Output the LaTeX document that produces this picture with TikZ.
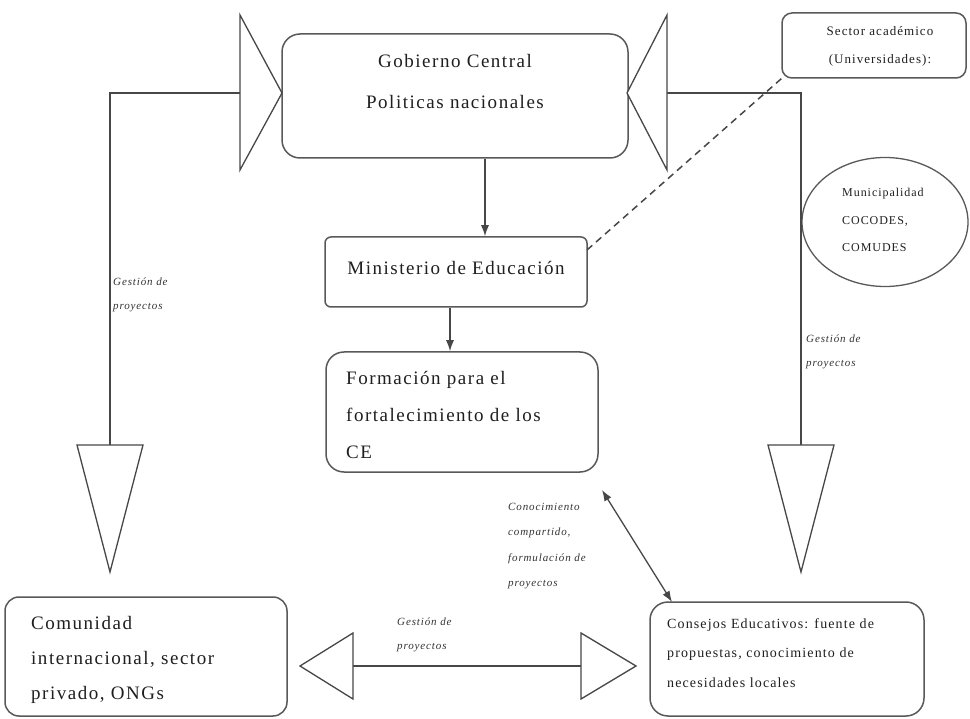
\documentclass[tikz,border=0pt]{standalone}
\usepackage{fontspec}
\setmainfont{Liberation Serif}[LetterSpace=8]
\usetikzlibrary{arrows.meta,shapes.geometric}
\newcommand\fsz[2]{\fontsize{#1}{#2}\selectfont}
\begin{document}
\begin{tikzpicture}[x=1pt,y=-1pt,
  box/.style={draw=black!65, line width=1.5pt, rounded corners=#1, inner sep=0pt},
  box/.default=18pt,
  ln/.style={draw=black!72, line width=1.3pt},
  tri/.style={draw=black!72, line width=1.3pt, fill=white, line join=miter},
  arr/.style={ln, -{Latex[length=11pt,width=8pt]}},
  darr/.style={ln, {Latex[length=11pt,width=8pt]}-{Latex[length=11pt,width=8pt]}},
  lbl/.style={font=\itshape\fsz{11}{24}, text=black!80, align=left, inner sep=0pt},
  txt/.style={text=black!88, inner sep=0pt}]
\useasboundingbox (0,0) rectangle (970,719);
\fill[white] (0,0) rectangle (970,719);

% boxes
\node[box, minimum width=346pt, minimum height=124pt] (gob) at (455,96) {};
\node[box=6pt, minimum width=262pt, minimum height=70pt] (min) at (456,272) {};
\node[box, minimum width=272pt, minimum height=120pt] (form) at (462,412) {};
\node[box=14pt, minimum width=282pt, minimum height=119pt] (com) at (146,656.5) {};
\node[box, minimum width=274pt, minimum height=114pt] (cons) at (787,659) {};
\node[box=10pt, minimum width=184pt, minimum height=65pt] (sec) at (874,45.5) {};
\node[ellipse, draw=black!65, line width=1.3pt, minimum width=166pt, minimum height=129pt, inner sep=0pt] (muni) at (885,222) {};

% texts
\node[txt, font=\fsz{19}{41}, align=center] (gobT) at (455,82) {Gobierno Central\\Politicas nacionales};
\node[txt, font=\fsz{19}{24}] (minT) at (456,268) {Ministerio de Educación};
\node[txt, font=\fsz{19}{37}, align=left, anchor=west] (formT) at (346,415) {Formación para el\\fortalecimiento de los\\CE};
\node[txt, font=\fsz{19}{35}, align=left, anchor=west] (comT) at (31,660) {Comunidad\\internacional, sector\\privado, ONGs};
\node[txt, font=\fsz{14}{29.5}, align=left, anchor=west] (consT) at (667,653) {Consejos Educativos: fuente de\\propuestas, conocimiento de\\necesidades locales};
\node[txt, font=\fsz{13}{28}, align=center] (secT) at (880,46) {Sector académico\\(Universidades):};
\node[txt, font=\fsz{12}{27.5}, align=left, anchor=west] (muniT) at (842,220) {Municipalidad\\COCODES,\\COMUDES};

% coordinates
\coordinate (lApex) at (282,93);
\coordinate (lBase) at (240,93);
\coordinate (lCorner) at (110,93);
\coordinate (lDown) at (110,445);
\coordinate (rApex) at (627,93);
\coordinate (rBase) at (667,93);
\coordinate (rCorner) at (801,93);
\coordinate (rDown) at (801,445);
\coordinate (bL) at (353,666);
\coordinate (bR) at (581,666);

% left bow
\draw[ln] (lBase) -- (lCorner) -- (lDown);
\draw[tri] (240,15) -- (240,170) -- (lApex) -- cycle;
\draw[tri] (77,445) -- (143,445) -- (110,572) -- cycle;

% right bow
\draw[ln] (rBase) -- (rCorner) -- (rDown);
\draw[tri] (667,15) -- (667,170) -- (rApex) -- cycle;
\draw[tri] (768,445) -- (834,445) -- (801,572) -- cycle;

% bottom
\draw[ln] (bL) -- (bR);
\draw[tri] (353,633) -- (353,699) -- (300,666) -- cycle;
\draw[tri] (581,633) -- (581,699) -- (636,666) -- cycle;

% arrows
\draw[arr] (gob.south -| 485,0) -- (min.north -| 485,0);
\draw[arr] (min.south -| 450,0) -- (form.north -| 450,0);
\coordinate (dA) at (602,490);
\coordinate (dB) at (672,602);
\draw[darr] (dA) -- (dB);
\coordinate (dashS) at (587,250);
\draw[draw=black!72, line width=1.5pt, dash pattern=on 7pt off 5pt] (dashS) -- (sec.south west);

% labels
\node[lbl, anchor=west] (lblL) at (113,295) {Gestión de\\proyectos};
\node[lbl, anchor=west] (lblR) at (806,352) {Gestión de\\proyectos};
\node[lbl, anchor=west] (lblB) at (397,635) {Gestión de\\proyectos};
\node[lbl, anchor=west, font=\itshape\fsz{11}{25.3}] (lblM) at (508,546) {Conocimiento\\compartido,\\formulación de\\proyectos};
\end{tikzpicture}
\end{document}
